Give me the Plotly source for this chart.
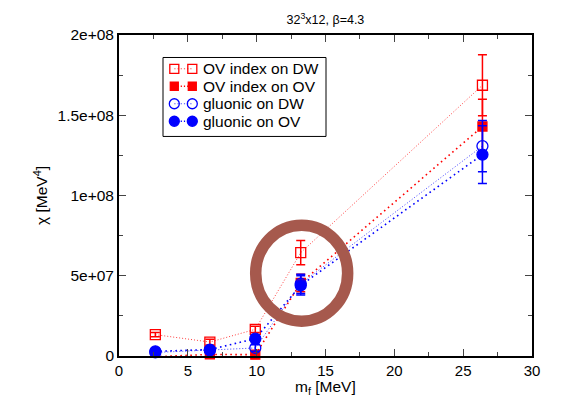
import plotly.graph_objects as go

# Data
m_f = [2.64, 6.6, 9.9, 13.2, 26.4]

ov_dw = [13.3e6, 8.7e6, 16.6e6, 64.4e6, 168.7e6]
ov_dw_err = [1.3e6, 1.8e6, 2.0e6, 7.5e6, 19e6]

ov_ov = [-0.5e6, 1.0e6, 0.8e6, 45.5e6, 143e6]
ov_ov_err = [0.8e6, 1.0e6, 1.0e6, 5.5e6, 17e6]

gl_dw = [2.2e6, 3.5e6, 5.0e6, 45.0e6, 130.8e6]
gl_dw_err = [1.0e6, 1.0e6, 2.0e6, 6.0e6, 16e6]

gl_ov = [2.9e6, 4.0e6, 10.8e6, 44.0e6, 125.5e6]
gl_ov_err = [1.0e6, 1.0e6, 2.5e6, 6.0e6, 18e6]

series_names = ["OV index on DW", "OV index on OV", "gluonic on DW", "gluonic on OV"]

ytick_vals = [0, 5e7, 1e8, 1.5e8, 2e8]
ytick_text = ["0", "5e+07", "1e+08", "1.5e+08", "2e+08"]
xtick_vals = [0, 5, 10, 15, 20, 25, 30]

RED = "#FF0000"
BLUE = "#0000FF"
LIGHT_RED = "rgba(255,0,0,0.75)"
LIGHT_BLUE = "rgba(0,0,255,0.75)"

styles = [
    dict(color=RED, lcolor=LIGHT_RED, symbol="square-open", size=10, lw=1.0, dash="1px,2px"),
    dict(color=RED, lcolor=RED, symbol="square", size=9, lw=1.6, dash="1.6px,3.4px"),
    dict(color=BLUE, lcolor=LIGHT_BLUE, symbol="circle-open", size=11, lw=1.0, dash="1px,2px"),
    dict(color=BLUE, lcolor=BLUE, symbol="circle", size=11, lw=1.6, dash="1.6px,3.4px"),
]
values = [ov_dw, ov_ov, gl_dw, gl_ov]
errors = [ov_dw_err, ov_ov_err, gl_dw_err, gl_ov_err]

fig = go.Figure()

for name, y, err, st in zip(series_names, values, errors, styles):
    fig.add_trace(go.Scatter(
        x=m_f, y=y, name=name, mode="lines+markers", showlegend=False,
        line=dict(color=st["lcolor"], width=st["lw"], dash=st["dash"]),
        marker=dict(symbol=st["symbol"], size=st["size"], color=st["color"],
                    line=dict(color=st["color"], width=1.3)),
        error_y=dict(type="data", array=err, color=st["color"], thickness=1.5, width=4.5),
        cliponaxis=False,
    ))

# Legend box drawn in an overlay pixel-like frame (x2/y2 spanning the plot area)
PL, PR, PT, PB = 119, 532, 34.5, 355.7
leg_box = (163, 326, 57, 136)
row_y = [68.3, 85.8, 103.3, 120.8]
sample_x = [174.3, 192.3]
text_x = 201

for name, st, ry in zip(series_names, styles, row_y):
    fig.add_trace(go.Scatter(
        x=sample_x, y=[ry, ry], xaxis="x2", yaxis="y2", mode="lines+markers",
        showlegend=False, hoverinfo="skip",
        line=dict(color=st["lcolor"], width=st["lw"], dash="1.2px,2px"),
        marker=dict(symbol=st["symbol"], size=st["size"] - 1, color=st["color"],
                    line=dict(color=st["color"], width=1.3)),
        cliponaxis=False,
    ))
    fig.add_annotation(x=text_x, y=ry, xref="x2", yref="y2", text=name,
                       showarrow=False, xanchor="left", yanchor="middle",
                       font=dict(size=15.5))

fig.add_shape(type="rect", xref="x2", yref="y2",
              x0=leg_box[0], x1=leg_box[1], y0=leg_box[2], y1=leg_box[3],
              line=dict(color="black", width=1), fillcolor="rgba(0,0,0,0)", layer="above")

# x-axis title placed below tick labels (paper coordinates)
fig.add_annotation(x=0.5, y=-(387 - PB) / (PB - PT), xref="paper", yref="paper",
                   text="m<sub>f</sub> [MeV]", showarrow=False, borderpad=0,
                   xanchor="center", yanchor="middle", font=dict(size=15.5))

# highlight ring
cx, cy, rx, ry_ = 13.27, 51.6e6, 3.34, 29.9e6
fig.add_shape(type="circle", xref="x", yref="y",
              x0=cx - rx, x1=cx + rx, y0=cy - ry_, y1=cy + ry_,
              line=dict(color="rgb(166,89,77)", width=11.5), layer="above")

font = "Liberation Sans, Arial, sans-serif"
fig.update_layout(
    width=567, height=397,
    margin=dict(l=PL, r=567 - PR, t=PT, b=397 - PB, autoexpand=False),
    paper_bgcolor="white", plot_bgcolor="white",
    font=dict(family=font, size=14, color="black"),
    title=dict(text="32<sup>3</sup>x12, β=4.3", x=0.574, xanchor="center",
               y=0.95, yanchor="middle", font=dict(size=12.5, family=font)),
    showlegend=False,
    xaxis=dict(range=[0, 30], tickvals=xtick_vals, ticks="inside", ticklen=7,
               tickwidth=1.2, showline=True, linecolor="black", linewidth=1.8,
               mirror="ticks", showgrid=False, zeroline=False, automargin=False,
               minor=dict(dtick=2.5, ticks="inside", ticklen=4, tickwidth=1.2),
               tickfont=dict(size=15)),
    yaxis=dict(range=[0, 2e8], tickvals=ytick_vals, ticktext=ytick_text,
               ticks="inside", ticklen=7, tickwidth=1.2, showline=True,
               linecolor="black", linewidth=1.8, mirror="ticks", automargin=False,
               showgrid=False, zeroline=False,
               minor=dict(dtick=2.5e7, ticks="inside", ticklen=4, tickwidth=1.2),
               title=dict(text="χ [MeV<sup>4</sup>]", standoff=6,
                          font=dict(size=15.5)),
               tickfont=dict(size=15.5)),
    xaxis2=dict(overlaying="x", range=[PL, PR], visible=False, fixedrange=True),
    yaxis2=dict(overlaying="y", range=[PB, PT], visible=False, fixedrange=True),
)

fig.write_html("out.html")
